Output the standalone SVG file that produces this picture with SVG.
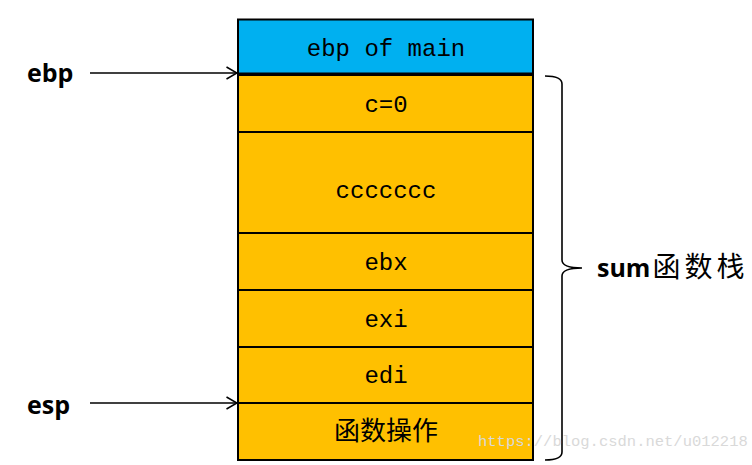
<svg xmlns="http://www.w3.org/2000/svg" width="752" height="465" viewBox="0 0 752 465">
<style>
.cell{stroke:#000;stroke-width:2}
.blue{fill:#00B0F0}
.orange{fill:#FFC000}
.mono{font-family:"Liberation Mono","Noto Sans CJK SC",monospace;font-size:24px;fill:#000;text-anchor:middle}
.cjk{font-family:"Noto Sans CJK SC",sans-serif;font-size:26px;fill:#000;text-anchor:middle}
.lbl{font-family:"Open Sans","Noto Sans CJK SC",sans-serif;font-weight:bold;font-size:25px;fill:#000}
.conn{stroke:#000;stroke-width:1.6;fill:none}
</style>
<defs>
<marker id="arr" viewBox="0 0 12 14" refX="11.5" refY="7" markerWidth="12" markerHeight="14" markerUnits="userSpaceOnUse" orient="auto">
<path d="M1,1 L11.5,7 L1,13" fill="none" stroke="#000" stroke-width="1.6"/>
</marker>
</defs>
<rect width="752" height="465" fill="#fff"/>
<g id="ebp_main"><rect class="cell blue" x="238" y="19.5" width="295" height="54.5"/><text class="mono" x="386" y="56">ebp of main</text></g>
<g id="c0"><rect class="cell orange" x="238" y="75" width="295" height="57"/><text class="mono" x="386" y="112">c=0</text></g>
<g id="ccc"><rect class="cell orange" x="238" y="132" width="295" height="101"/><text class="mono" x="386" y="198">ccccccc</text></g>
<g id="ebx"><rect class="cell orange" x="238" y="233" width="295" height="57"/><text class="mono" x="386" y="270">ebx</text></g>
<g id="exi"><rect class="cell orange" x="238" y="290" width="295" height="57"/><text class="mono" x="386" y="327">exi</text></g>
<g id="edi"><rect class="cell orange" x="238" y="347" width="295" height="56"/><text class="mono" x="386" y="383">edi</text></g>
<g id="op"><rect class="cell orange" x="238" y="403" width="295" height="57"/><text class="cjk" x="386" y="440">函数操作</text></g>
<line x1="238" y1="74" x2="533" y2="74" stroke="#000" stroke-width="3"/>
<g id="ebp_label"><text class="lbl" x="27" y="82">ebp</text></g>
<g id="esp_label"><text class="lbl" x="27" y="414">esp</text></g>
<g id="sum_label"><text class="lbl" x="597" y="277">sum<tspan font-family="Noto Sans CJK SC,sans-serif" font-weight="normal" font-size="28" letter-spacing="4" dx="2">函数栈</tspan></text></g>
<g id="connectors">
<line class="conn" x1="90" y1="73" x2="237" y2="73" marker-end="url(#arr)"/>
<line class="conn" x1="90" y1="403" x2="237" y2="403" marker-end="url(#arr)"/>
<path class="conn" stroke-width="2" d="M545,76 Q562,76 562,84 L562,260 Q562,268 582,268 Q562,268 562,276 L562,452 Q562,460 545,460"/>
</g>
<text x="478" y="446" font-family="Liberation Mono,monospace" font-size="15.5" fill="#d9d9d9">https://blog.csdn.net/u012218</text>
</svg>
